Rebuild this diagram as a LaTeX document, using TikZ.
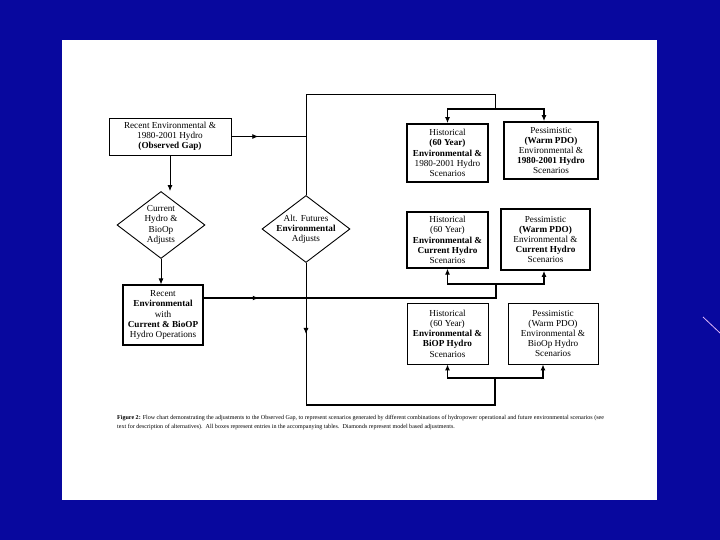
\documentclass[tikz,border=0pt]{standalone}
\usepackage{fontspec}
\setmainfont{Liberation Serif}
\usetikzlibrary{shapes.geometric,arrows.meta,decorations.markings}
\definecolor{slideblue}{RGB}{8,8,158}
\definecolor{slideline}{RGB}{225,185,250}
\newcommand{\boxfont}{\fontsize{9.2}{10.2}\selectfont}

\begin{document}
\begin{tikzpicture}[x=1pt,y=-1pt,>={Latex[length=6pt,width=5pt]},
    entry/.style={draw,line width=#1,inner sep=0pt,align=center,font=\boxfont},
    entry/.default=0.8pt,
    adjust/.style={draw,line width=0.9pt,shape=diamond,inner sep=0pt,
        minimum width=88pt,minimum height=67pt},
    flow/.style={line width=0.8pt},
    fork/.style={line width=1.5pt},
    midtip/.style={postaction={decorate},decoration={markings,
        mark=at position #1 with {\arrow{Latex[length=6pt,width=5pt]}}}}]
    \useasboundingbox (0,0) rectangle (720,540);
    \fill[slideblue] (0,0) rectangle (720,540);
    \fill[white] (62,40) rectangle (657,500);
    \draw[slideline,line width=0.8pt] (703,317)--(720,333);
    % left column
    \node[entry,minimum width=122pt,minimum height=37pt] (obsgap) at (170,136.5)
        {Recent Environmental \&\\1980-2001 Hydro\\\textbf{(Observed Gap)}};
    \node[adjust,label={[align=center,font=\boxfont]center:{Current\\Hydro \&\\BioOp\\Adjusts}}]
        (curadj) at (161,225) {};
    \node[entry=1.2pt,minimum width=80pt,minimum height=60pt] (recent) at (163,315)
        {Recent\\\textbf{Environmental}\\with\\\textbf{Current \& BioOP}\\Hydro Operations};
    \node[adjust,label={[align=center,font=\boxfont]center:{Alt. Futures\\\textbf{Environmental}\\Adjusts}}]
        (altadj) at (306,229) {};
    % scenario boxes
    \node[entry=1.6pt,minimum width=81pt,minimum height=58pt] (hist1) at (447.5,153)
        {Historical\\\textbf{(60 Year)}\\\textbf{Environmental \&}\\1980-2001 Hydro\\Scenarios};
    \node[entry=1.6pt,minimum width=94pt,minimum height=57pt] (pess1) at (551,150.5)
        {Pessimistic\\\textbf{(Warm PDO)}\\Environmental \&\\\textbf{1980-2001 Hydro}\\Scenarios};
    \node[entry=1.2pt,minimum width=81pt,minimum height=56pt] (hist2) at (447.5,240)
        {Historical\\(60 Year)\\\textbf{Environmental \&}\\\textbf{Current Hydro}\\Scenarios};
    \node[entry=1.6pt,minimum width=89pt,minimum height=61pt] (pess2) at (545.5,239.5)
        {Pessimistic\\\textbf{(Warm PDO)}\\Environmental \&\\\textbf{Current Hydro}\\Scenarios};
    \node[entry,minimum width=81pt,minimum height=61pt] (hist3) at (447.5,333.5)
        {Historical\\(60 Year)\\\textbf{Environmental \&}\\\textbf{BiOP Hydro}\\Scenarios};
    \node[entry,minimum width=90pt,minimum height=61pt] (pess3) at (553,333.5)
        {Pessimistic\\(Warm PDO)\\Environmental \&\\BioOp Hydro\\Scenarios};
    \coordinate (trunktop) at (306,94);
    \coordinate (trunkend) at (306,405);
    \coordinate (fork1) at (495,109);
    \coordinate (fork2) at (496,284);
    \coordinate (fork3) at (495,378);
    % connectors
    \draw[flow,->] (obsgap.south) -- (obsgap.south |- curadj.north);
    \draw[flow,->] (curadj.south) -- (curadj.south |- recent.north);
    \draw[flow,midtip=0.36] (obsgap.east) -- (obsgap.east -| trunktop);
    \draw[flow] (altadj.north) -- (trunktop) -- (trunktop -| fork1) -- (fork1);
    \draw[flow,midtip=0.5] (altadj.south) -- (trunkend);
    \draw[fork,->] (fork1) -| (hist1.north);
    \draw[fork,->] (fork1) -| ([xshift=-7pt]pess1.north);
    \draw[fork,midtip=0.18] ([yshift=17pt]recent.east) -- ([yshift=17pt]recent.east -| fork2) -- (fork2);
    \draw[fork,->] (fork2) -| (hist2.south);
    \draw[fork,->] (fork2) -| ([xshift=-1.5pt]pess2.south);
    \draw[fork] (trunkend) -- (trunkend -| fork3) -- (fork3);
    \draw[fork,->] (fork3) -| (hist3.south);
    \draw[fork,->] (fork3) -| ([xshift=-10pt]pess3.south);
    % caption
    \node[anchor=north west,align=left,inner sep=0pt,font=\fontsize{6.05}{9}\selectfont] (caption) at (117,415.5)
        {\textbf{Figure 2:} Flow chart demonstrating the adjustments to the Observed Gap, to represent scenarios generated by different combinations of hydropower operational and future environmental scenarios (see\\
        text for description of alternatives).\ \ All boxes represent entries in the accompanying tables.\ \ Diamonds represent model based adjustments.};
\end{tikzpicture}
\end{document}
